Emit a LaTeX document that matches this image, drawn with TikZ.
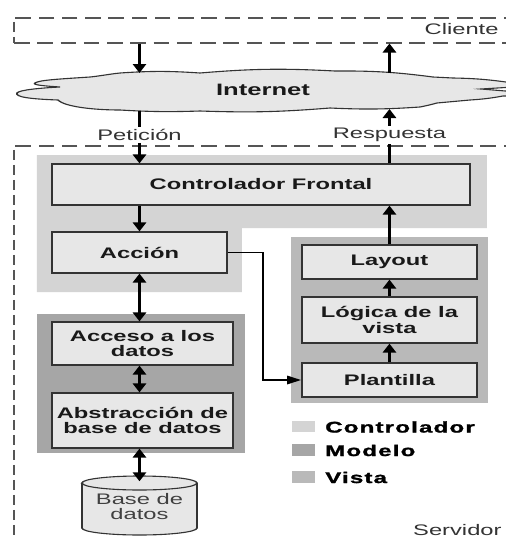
\documentclass[tikz,border=0pt]{standalone}
\usepackage{fontspec}
\setmainfont{Liberation Sans}
\newfontfamily\legendfont{Liberation Sans}[LetterSpace=5,BoldFeatures={FakeBold=1.2}]
\usetikzlibrary{arrows.meta}

\definecolor{ctrlgray}{HTML}{D4D4D4}
\definecolor{modelgray}{HTML}{A6A6A6}
\definecolor{viewgray}{HTML}{B9B9B9}
\definecolor{boxfill}{HTML}{E7E7E7}
\definecolor{edgegray}{HTML}{333333}
\definecolor{dashgray}{HTML}{555555}
% horizontal stretch of the whole drawing
\def\sx{1.55}

\tikzset{
  blk/.style={draw=edgegray, fill=boxfill, line width=1.2pt, inner sep=0pt,
    align=center, text=black!90, font=\fontsize{15.3}{15.5}\selectfont\bfseries},
  lbl/.style={inner sep=2pt, text=black!80, font=\fontsize{15.3}{16}\selectfont},
  arrw/.style={line width=1.5pt, -{Triangle[width=8.5pt,length=9pt]}},
  dblarrw/.style={line width=1.5pt,
    {Triangle[width=8.5pt,length=9pt]}-{Triangle[width=8.5pt,length=9pt]}},
  zone/.style={draw=dashgray, line width=1.5pt, dash pattern=on 10pt off 5pt,
    inner sep=0pt, anchor=north west},
  legsq/.style={inner sep=0pt, minimum width=23pt/\sx, minimum height=11.5pt},
  legtxt/.style={anchor=west, inner sep=0pt,
    font=\legendfont\fontsize{15.5}{16}\selectfont\bfseries}
}

\begin{document}
\begin{tikzpicture}[x=1pt,y=-1pt]
\useasboundingbox (0,0) rectangle (506,539);
\clip (0,0) rectangle (506,539);
\fill[white] (0,0) rectangle (506,539);

\begin{scope}[transform canvas={xscale=\sx}, x=1pt/\sx, y=-1pt]

  % client and server zones
  \node[zone, minimum width=547pt/\sx, minimum height=25pt] (cliente) at (13,17) {};
  \node[zone, minimum width=547pt/\sx, minimum height=460pt] (servidor) at (13,145) {};
  \node[lbl, anchor=east] (clientelbl) at (502,29) {Cliente};
  \node[lbl, anchor=east] (servidorlbl) at (505,530) {Servidor};

  % layer backgrounds
  \fill[ctrlgray] (37,155) -- (487,155) -- (487,228) -- (242,228)
                  -- (242,292) -- (37,292) -- cycle;
  \fill[modelgray] (37,314) rectangle (245,453);
  \fill[viewgray] (291,237) rectangle (488,403);

  % the Internet cloud
  \filldraw[fill=boxfill, draw=edgegray, line width=1.1pt]
    (120,73) to[bend left=6] (200,73) to[bend left=6] (335,71)
    to[bend left=6] (433,77) -- (453,78) to[bend left=5] (506,82)
    -- (530,84) -- (530,86) -- (481,89) -- (530,93) -- (530,96)
    -- (503,96) to[bend left=5] (470,100) -- (437,103)
    to[bend left=3] (420,107) to[bend left=5] (330,108)
    to[bend left=5] (200,111) to[bend left=4] (120,110)
    .. controls (95,110) and (65,107) .. (58,100)
    .. controls (30,99) and (15,97) .. (17,93)
    .. controls (19,90) and (40,88) .. (60,87)
    .. controls (45,86) and (32,85) .. (35,83)
    .. controls (39,80) and (60,79) .. (90,77)
    .. controls (100,76) and (110,74) .. (120,73) -- cycle;
  \node[inner sep=0pt, font=\fontsize{16.5}{17}\selectfont\bfseries,
        text=black!90] (internet) at (263,90) {Internet};
  \coordinate (cloudtopL) at (139.5,73);
  \coordinate (cloudbotL) at (139.5,111);
  \coordinate (cloudtopR) at (389.5,73);
  \coordinate (cloudbotR) at (389.5,109);

  % components
  \node[blk, minimum width=418pt/\sx, minimum height=41pt] (cf) at (261,184.5)
    {Controlador Frontal};
  \node[blk, minimum width=175pt/\sx, minimum height=41pt] (accion) at (139.5,252.5)
    {Acción};
  \node[blk, minimum width=181pt/\sx, minimum height=43pt] (acceso) at (142.5,343.5)
    {Acceso a los\\datos};
  \node[blk, minimum width=181pt/\sx, minimum height=55pt] (abstr) at (142.5,420.5)
    {Abstracción de\\base de datos};
  \node[blk, minimum width=175pt/\sx, minimum height=34pt] (layout) at (389.5,262)
    {Layout};
  \node[blk, minimum width=175pt/\sx, minimum height=46pt] (logica) at (389.5,320)
    {Lógica de la\\vista};
  \node[blk, minimum width=175pt/\sx, minimum height=34pt] (plantilla) at (389.5,380)
    {Plantilla};

  % database cylinder
  \filldraw[fill=boxfill, draw=edgegray, line width=1.1pt]
    (82,483) -- (82,528)
    arc[start angle=180, end angle=360, x radius=57.5pt/\sx, y radius=7pt]
    -- (197,483)
    arc[start angle=0, end angle=180, x radius=57.5pt/\sx, y radius=7pt] -- cycle;
  \draw[draw=edgegray, line width=1.1pt] (82,483)
    arc[start angle=180, end angle=360, x radius=57.5pt/\sx, y radius=7pt];
  \node[inner sep=0pt, align=center, text=black!75, minimum width=115pt/\sx,
        minimum height=45pt, font=\fontsize{15.3}{15}\selectfont] (db) at (139.5,507)
    {Base de\\datos};

  % request / response labels
  \node[lbl] (peticion) at (139.5,135) {Petición};
  \node[lbl] (respuesta) at (389.5,135) {Respuesta};

  % request path
  \draw[arrw] (cliente.south -| accion) -- (cloudtopL);
  \draw[line width=1.5pt] (cloudbotL) -- (peticion.north);
  \draw[arrw] (peticion.south) -- (peticion.south |- cf.north);
  \draw[arrw] (cf.south -| accion) -- (accion.north);
  \draw[dblarrw] (accion.south) -- (accion.south |- acceso.north);
  \draw[dblarrw] (acceso.south -| accion) -- (abstr.north -| accion);
  \draw[dblarrw] (abstr.south -| accion) -- ([yshift=3pt]db.north);
  \draw[arrw] (accion.east) -- ++(35,0) |- (plantilla.west);

  % response path
  \draw[arrw] (plantilla.north) -- (logica.south);
  \draw[arrw] (logica.north) -- (layout.south);
  \draw[arrw] (layout.north) -- (layout.north |- cf.south);
  \draw[line width=1.5pt] (respuesta.south |- cf.north) -- (respuesta.south);
  \draw[arrw] (respuesta.north) -- (cloudbotR);
  \draw[arrw] (cloudtopR) -- (cliente.south -| layout);

  % legend
  \node[legsq, fill=ctrlgray] (legc) at (303.5,426.5) {};
  \node[legsq, fill=modelgray] (legm) at (303.5,450) {};
  \node[legsq, fill=viewgray] (legv) at (303.5,477) {};
  \node[legtxt] (legctxt) at (325,427) {Controlador};
  \node[legtxt] (legmtxt) at (325,450.5) {Modelo};
  \node[legtxt] (legvtxt) at (325,477.5) {Vista};

\end{scope}
\end{tikzpicture}
\end{document}
